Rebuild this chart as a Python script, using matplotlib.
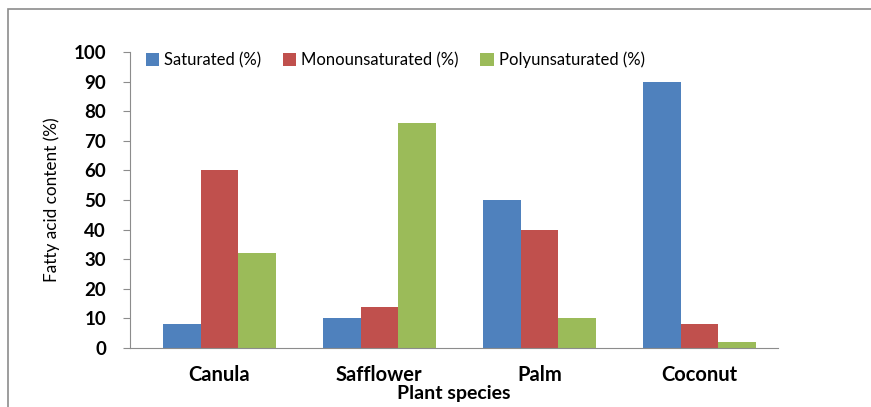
import numpy as np
import matplotlib.pyplot as plt
from matplotlib.patches import Rectangle

# 데이터
species = ['Canula', 'Safflower', 'Palm', 'Coconut']
saturated = [8, 10, 50, 90]
mono = [60, 14, 40, 8]
poly = [32, 76, 10, 2]
series_names = ['Saturated (%)', 'Monounsaturated (%)', 'Polyunsaturated (%)']
colors = ['#4F81BD', '#C0504D', '#9BBB59']

plt.rcParams['font.family'] = ['Lato', 'DejaVu Sans']

fig = plt.figure(figsize=(8.71, 4.07), dpi=100)
ax = fig.add_axes([0.149, 0.145, 0.744, 0.727])

# 외곽 테두리
fig.patches.append(Rectangle((8/871, -0.1), 1.2, 1 - 9/407 + 0.1, transform=fig.transFigure,
                             fill=False, edgecolor='#8c8c8c', linewidth=1.2))

x = np.arange(len(species))
w = 0.235
for i, vals in enumerate([saturated, mono, poly]):
    ax.bar(x + (i - 1) * w, vals, width=w, color=colors[i], label=series_names[i])

ax.set_xlim(-0.56, 3.49)
ax.set_ylim(0, 100)
ax.set_yticks(range(0, 101, 10))
ax.set_xticks(x)
ax.set_xticklabels(species, fontsize=14.5, fontweight='bold')
for t in ax.get_yticklabels():
    t.set_fontsize(13.5)
    t.set_fontweight('bold')
ax.tick_params(axis='x', length=0, pad=12)
ax.tick_params(axis='y', length=5, color='#8c8c8c', pad=12)

for s in ['top', 'right']:
    ax.spines[s].set_visible(False)
for s in ['left', 'bottom']:
    ax.spines[s].set_color('#8c8c8c')

ax.set_ylabel('Fatty acid content (%)', fontsize=12.3, labelpad=10)
ax.set_xlabel('Plant species', fontsize=14, fontweight='bold', labelpad=0)

fig.legend(loc='upper left', bbox_to_anchor=(0.150, 0.91), ncol=3, frameon=False,
           fontsize=12, handlelength=0.8, handleheight=0.8, handletextpad=0.3,
           columnspacing=1.3)

fig.savefig('out.png', dpi=100)
